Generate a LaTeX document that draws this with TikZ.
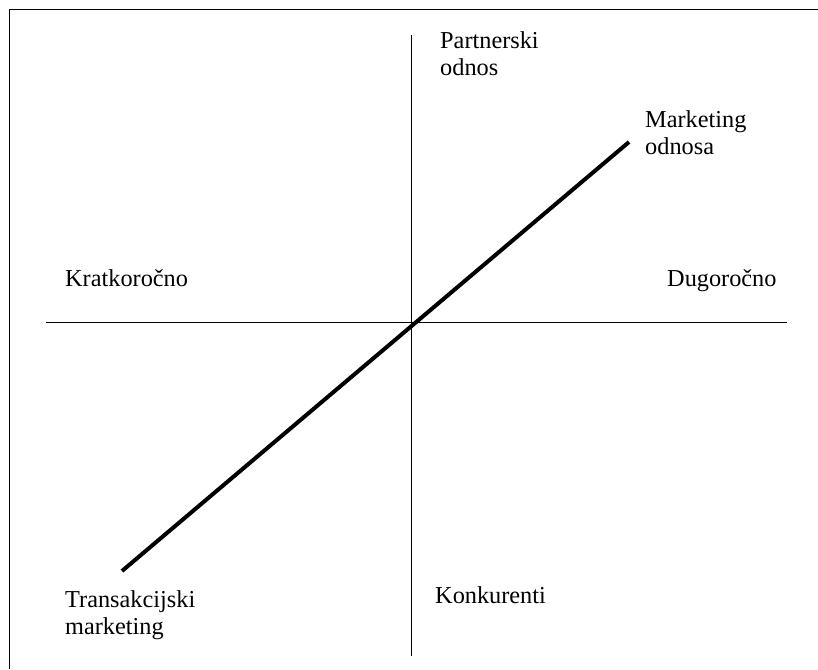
\documentclass[tikz,border=0pt]{standalone}
\usepackage{fontspec}
\setmainfont{Liberation Serif}
\begin{document}
\begin{tikzpicture}[x=1pt,y=-1pt,
  lbl/.style={anchor=base west,inner sep=0pt,align=left,font=\fontsize{24.3}{27.5}\selectfont},
  axis/.style={line width=1.5pt,black},
  diag/.style={line width=4pt,black}]
\useasboundingbox (0,0) rectangle (818,669);
% frame (top and left sides)
\coordinate (f1) at (9.5,669);
\coordinate (f2) at (9.5,9.5);
\coordinate (f3) at (818,9.5);
\draw[line width=1.5pt] (f1) -- (f2) -- (f3);
% axes
\coordinate (vt) at (411.5,35);
\coordinate (vb) at (411.5,656);
\coordinate (hl) at (46,322.5);
\coordinate (hr) at (787,322.5);
\draw[axis] (vt) -- (vb);
\draw[axis] (hl) -- (hr);
% diagonal
\coordinate (dl) at (122,571);
\coordinate (du) at (629,142);
\draw[diag] (dl) -- (du);
% labels (base anchor = baseline of last line)
\node[lbl] (pn) at (440,75.5) {Partnerski\\odnos};
\node[lbl] (mo) at (645,154.5) {Marketing\\odnosa};
\node[lbl] (kr) at (65,286) {Kratkoročno};
\node[lbl] (du2) at (667,286) {Dugoročno};
\node[lbl] (tm) at (65,634.5) {Transakcijski\\marketing};
\node[lbl] (ko) at (435,603) {Konkurenti};
\end{tikzpicture}
\end{document}
